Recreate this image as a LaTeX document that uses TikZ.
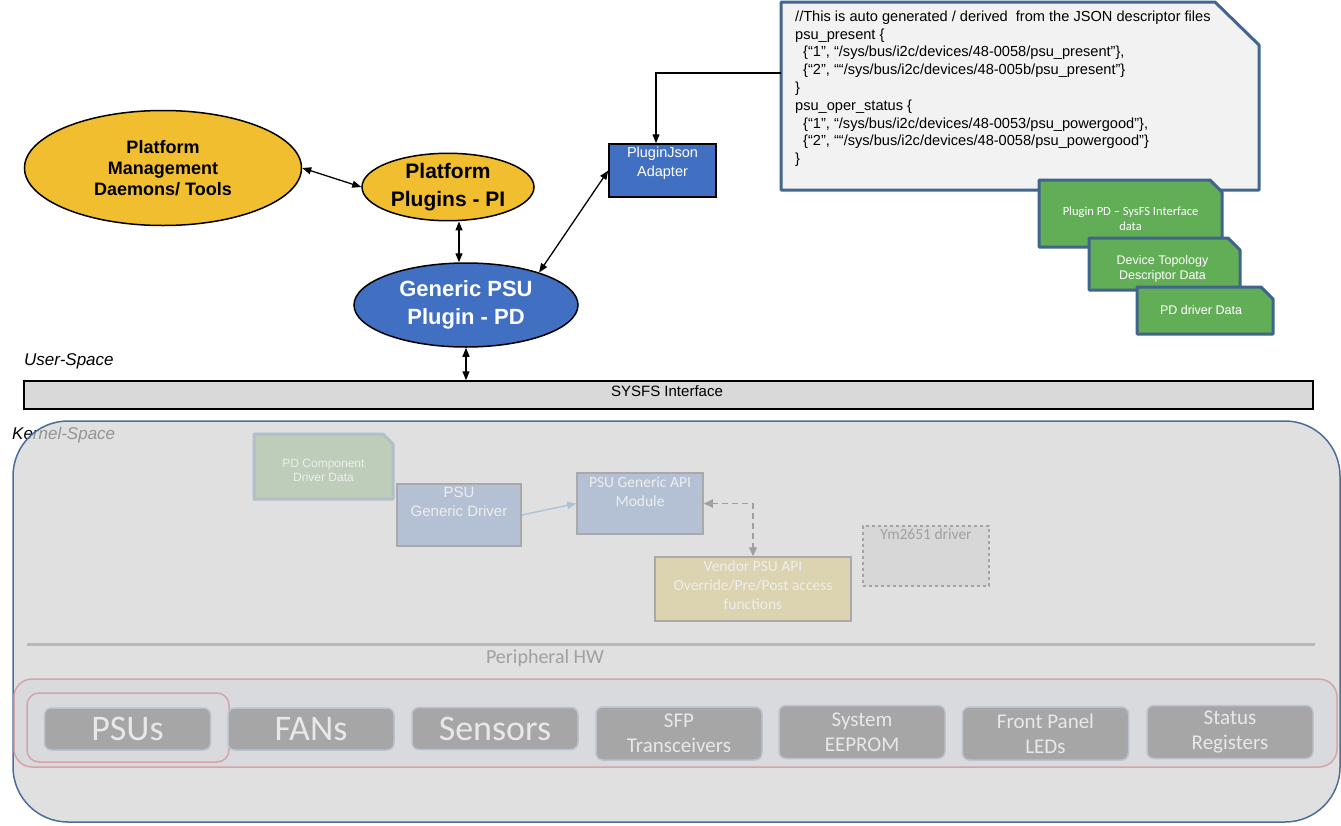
\documentclass[tikz,border=0pt]{standalone}
\usepackage{fontspec}
\setmainfont{Liberation Sans}
\newfontfamily\calfont{Carlito}
\usetikzlibrary{arrows.meta,shapes.geometric,calc}
\newcommand\myfs[2]{\fontsize{#1}{#2}\selectfont}
\definecolor{ylw}{HTML}{F0BE2F}
\definecolor{pdblue}{HTML}{4170C2}
\definecolor{noteFill}{HTML}{F2F2F2}
\definecolor{noteBorder}{HTML}{43668E}
\definecolor{grn}{HTML}{62AE56}
\definecolor{grnBorder}{HTML}{41648C}
\definecolor{sysfs}{HTML}{D9D9D9}
\definecolor{kernFill}{HTML}{D3D3D3}
\definecolor{kernBorder}{HTML}{4C6D9A}
\definecolor{pdcFill}{HTML}{BDCDB9}
\definecolor{pdcBorder}{HTML}{B1BFCA}
\definecolor{drvFill}{HTML}{B4C0D3}
\definecolor{drvBorder}{HTML}{A9A9A9}
\definecolor{vendorFill}{HTML}{DCD3B1}
\definecolor{ymFill}{HTML}{D7D7D7}
\definecolor{ymBorder}{HTML}{A3A3A3}
\definecolor{itemFill}{HTML}{A6A6A6}
\definecolor{itemBorder}{HTML}{B9C2CE}
\definecolor{itemText}{HTML}{E8E8E8}
\definecolor{pinkBorder}{HTML}{D6A4A8}
\definecolor{periFill}{HTML}{D8DADE}
\definecolor{lineGray}{HTML}{B8B8B8}
\definecolor{fadeText}{HTML}{EEEEEE}
\definecolor{arrowBlue}{HTML}{A9C2D6}
\definecolor{dashGray}{HTML}{A0A0A0}
\begin{document}
\begin{tikzpicture}[x=1pt,y=-1pt,
  ell/.style={ellipse,draw=black,line width=1.5pt,inner sep=0pt,align=center},
  area/.style={rectangle,draw=none,inner sep=0pt,outer sep=0pt},
  txt/.style={inner sep=0pt,align=center},
  dbl/.style={{Triangle[length=9pt,width=7pt]}-{Triangle[length=9pt,width=7pt]},line width=1.3pt},
  sgl/.style={-{Triangle[length=9pt,width=7pt]},line width=1.3pt},
  notebox/.style={fill=noteFill,draw=noteBorder,line width=3pt,line join=round},
  greenbox/.style={fill=grn,draw=grnBorder,line width=3pt,line join=round},
  item/.style={rectangle,rounded corners=7pt,fill=itemFill,draw=itemBorder,line width=1.5pt,minimum width=166pt,text=itemText,align=center,inner sep=0pt,font=\calfont\myfs{21}{25}},
  bigitem/.style={item,minimum height=42pt,font=\calfont\myfs{36}{40}},
  twoitem/.style={item,minimum height=53pt},
  kbox/.style={rectangle,fill=drvFill,draw=drvBorder,line width=1.5pt,inner sep=0pt},
]
\useasboundingbox (0,0) rectangle (1341,825);

% ---------- kernel space ----------
\node[txt,anchor=west,font=\itshape\myfs{17}{20}] (kern) at (12,435.5) {Kernel-Space};
\node[rectangle,rounded corners=55pt,minimum width=1327pt,minimum height=401pt,
      draw=kernBorder,line width=1.5pt,fill=kernFill,fill opacity=0.7] (kernel) at (676.5,621.5) {};

% PD component driver data
\node[area,minimum width=139pt,minimum height=65pt] (pdc) at (323.5,466.5) {};
\draw[fill=pdcFill,draw=pdcBorder,line width=3pt,line join=round]
  (pdc.north west) -- ([xshift=-10pt]pdc.north east) -- ([yshift=-10pt]pdc.north east)
  -- (pdc.south east) -- (pdc.south west) -- cycle;
\node[txt,text=fadeText,font=\myfs{12}{14}] (pdct) at ([yshift=-3.5pt]pdc.center) {PD Component\\Driver Data};

\node[kbox,minimum width=124pt,minimum height=62pt] (gdrv) at (459,515) {};
\node[txt,text=fadeText,font=\myfs{15}{19}] (gdrvt) at ([yshift=13.5pt]gdrv.center) {PSU\\Generic Driver};

\node[kbox,minimum width=126pt,minimum height=61pt] (api) at (640,503.5) {};
\node[txt,text=fadeText,font=\calfont\myfs{15.5}{19}] (apit) at ([yshift=12pt]api.center) {PSU Generic API\\Module};

\node[kbox,fill=vendorFill,minimum width=196pt,minimum height=64pt] (vendor) at (753,589) {};
\node[txt,text=fadeText,font=\calfont\myfs{15.5}{19}] (vendort) at ([yshift=4pt]vendor.center) {Vendor PSU API\\Override/Pre/Post access\\functions};

\node[rectangle,fill=ymFill,draw=ymBorder,dashed,line width=1.5pt,minimum width=126pt,minimum height=60pt] (ym) at (926,556) {};
\node[txt,text=dashGray,font=\calfont\myfs{15.5}{19},anchor=north] (ymt) at ([yshift=-3pt]ym.north) {Ym2651 driver};

\draw[-{Triangle[length=9pt,width=7pt]},line width=1.3pt,arrowBlue] (gdrv.east) -- (api.west);
\draw[{Triangle[length=9pt,width=8pt]}-{Triangle[length=9pt,width=8pt]},line width=1.8pt,dashGray,dash pattern=on 6pt off 4pt] (api.east) -| (vendor.north);

\draw[line width=3pt,lineGray] (27,644) -- (1315,644);
\node[txt,text=dashGray,font=\calfont\myfs{20}{24}] (perit) at (545,658) {Peripheral HW};

\node[rectangle,rounded corners=18pt,fill=periFill,draw=pinkBorder,line width=1.5pt,minimum width=1323pt,minimum height=88pt] (peri) at (675.5,723) {};
\node[rectangle,rounded corners=12pt,draw=pinkBorder,line width=1.5pt,minimum width=202pt,minimum height=69pt] (psuhl) at (128,727.5) {};

\node[bigitem] (psus) at (127.5,729) {PSUs};
\node[bigitem] (fans) at (311,729) {FANs};
\node[bigitem] (sens) at (495,728.5) {Sensors};
\node[twoitem] (sfp) at (679,733.5) {SFP\\Transceivers};
\node[twoitem] (eep) at (862,732) {System\\EEPROM};
\node[twoitem] (led) at (1045.5,733.5) {Front Panel\\LEDs};
\node[twoitem] (stat) at (1230,732) {Status\\Registers};

% ---------- user space ----------
\node[txt,anchor=west,font=\itshape\myfs{17}{20}] (user) at (24,361.5) {User-Space};
\node[rectangle,fill=sysfs,draw=black,line width=1.5pt,minimum width=1289pt,minimum height=28pt] (sysfsbar) at (668.5,395) {};
\node[txt,font=\myfs{15}{18}] (sysfst) at (667,391) {SYSFS Interface};

\node[ell,fill=ylw,minimum width=277pt,minimum height=115pt,font=\bfseries\myfs{18}{21}] (mgmt) at (163,168) {Platform\\Management\\Daemons/ Tools};
\node[ell,fill=ylw,minimum width=172pt,minimum height=66pt,font=\bfseries\myfs{21}{28}] (pi) at (448,187) {Platform\\Plugins - PI};
\node[ell,fill=pdblue,text=white,minimum width=224pt,minimum height=84pt,font=\bfseries\myfs{22}{28}] (pd) at (466,305) {Generic PSU\\Plugin - PD};

\node[rectangle,fill=pdblue,draw=black,line width=1.5pt,minimum width=107pt,minimum height=53pt] (adapter) at (662.5,170.5) {};
\node[txt,text=white,font=\myfs{14.5}{19}] (adaptert) at ([yshift=7pt]adapter.center) {PluginJson\\Adapter};

% note
\node[area,minimum width=478pt,minimum height=188pt] (note) at (1020,96) {};
\draw[notebox] (note.north west) -- ([xshift=-44pt]note.north east) -- ([yshift=-43pt]note.north east)
  -- (note.south east) -- (note.south west) -- cycle;
\node[anchor=north west,inner sep=0pt,align=left,font=\myfs{14.6}{17.8}] (notet) at (795,10.5)
{//This is auto generated / derived \ from the JSON descriptor files\\
psu\_present \{\\
\hspace*{8pt}\{“1”, “/sys/bus/i2c/devices/48-0058/psu\_present”\},\\
\hspace*{8pt}\{“2”, ““/sys/bus/i2c/devices/48-005b/psu\_present”\}\\
\}\\
psu\_oper\_status \{\\
\hspace*{8pt}\{“1”, “/sys/bus/i2c/devices/48-0053/psu\_powergood”\},\\
\hspace*{8pt}\{“2”, ““/sys/bus/i2c/devices/48-0058/psu\_powergood”\}\\
\}};

% green boxes
\node[area,minimum width=183pt,minimum height=67pt] (g1) at (1130.5,213.5) {};
\draw[greenbox] (g1.north west) -- ([xshift=-12pt]g1.north east) -- ([yshift=-12pt]g1.north east)
  -- (g1.south east) -- (g1.south west) -- cycle;
\node[txt,text=white,font=\calfont\myfs{12.5}{15}] (g1t) at ([yshift=-5.5pt]g1.center) {Plugin PD – SysFS Interface\\data};

\node[area,minimum width=151pt,minimum height=52pt] (g2) at (1164.5,264) {};
\draw[greenbox] (g2.north west) -- ([xshift=-12pt]g2.north east) -- ([yshift=-12pt]g2.north east)
  -- (g2.south east) -- (g2.south west) -- cycle;
\node[txt,text=white,font=\myfs{12.5}{15}] (g2t) at ([xshift=-2pt,yshift=-4.5pt]g2.center) {Device Topology\\Descriptor Data};

\node[area,minimum width=136pt,minimum height=47pt] (g3) at (1205,310.5) {};
\draw[greenbox] (g3.north west) -- ([xshift=-12pt]g3.north east) -- ([yshift=-12pt]g3.north east)
  -- (g3.south east) -- (g3.south west) -- cycle;
\node[txt,text=white,font=\myfs{12.5}{15}] (g3t) at ([xshift=-4pt]g3.center) {PD driver Data};

% connectors
\draw[dbl] (mgmt.east) -- (pi.west);
\draw[dbl] ([xshift=11pt]pi.south) -- ([xshift=-7pt]pd.north);
\draw[dbl] (pd.24) -- (adapter.west);
\draw[dbl] (pd.south) -- (pd.south |- sysfsbar.north);
\draw[sgl] ([yshift=23pt]note.west) -| ([xshift=-6.5pt]adapter.north);
\end{tikzpicture}
\end{document}
